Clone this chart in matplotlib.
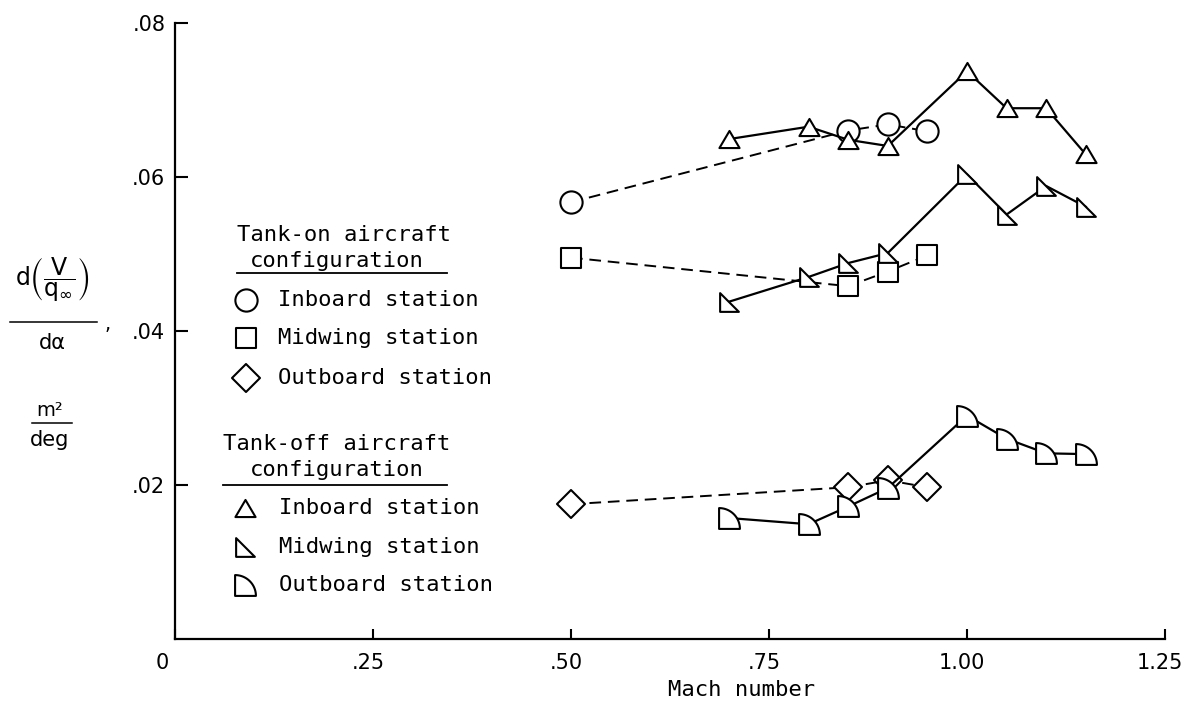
import numpy as np
import matplotlib
matplotlib.use("Agg")
import matplotlib.pyplot as plt
from matplotlib.lines import Line2D
from matplotlib.markers import MarkerStyle
from matplotlib.path import Path
from matplotlib.transforms import ScaledTranslation

W, H = 1186, 713

# Tank-on aircraft (dashed)
mach_tank_on = [0.50, 0.85, 0.90, 0.95]
inboard_on = [0.0567, 0.0660, 0.0668, 0.0659]
midwing_on = [0.0495, 0.0458, 0.0477, 0.0498]
outboard_on = [0.0175, 0.0197, 0.0206, 0.0197]

# Tank-off aircraft (solid)
mach_tank_off = [0.70, 0.80, 0.85, 0.90, 1.00, 1.05, 1.10, 1.15]
inboard_off = [0.0649, 0.0665, 0.0648, 0.0640, 0.0737, 0.0689, 0.0689, 0.0629]
midwing_off = [0.0438, 0.0470, 0.0488, 0.0501, 0.0603, 0.0551, 0.0588, 0.0561]
outboard_off = [0.0157, 0.0149, 0.0172, 0.0196, 0.0290, 0.0260, 0.0241, 0.0240]

xticks = [0, 0.25, 0.50, 0.75, 1.00, 1.25]
xtick_labels = ["0", ".25", ".50", ".75", "1.00", "1.25"]
yticks = [0.02, 0.04, 0.06, 0.08]
ytick_labels = [".02", ".04", ".06", ".08"]

station_names = ["Inboard station", "Midwing station", "Outboard station"]

# marker shapes
TRI = Path([(0, 0.85), (-1, -0.85), (1, -0.85), (0, 0.85)], closed=True)
RIGHT_TRI = Path([(-1, -1), (-1, 1), (1, -1), (-1, -1)], closed=True)
_t = np.linspace(np.pi / 2, 0, 40)
QUARTER = Path([(-1, -1)] + list(zip(-1 + 2 * np.cos(_t), -1 + 2 * np.sin(_t))) + [(-1, -1)],
               closed=True)

DASHED = (0, (6, 3.5))
MONO = "DejaVu Sans Mono"


def rounded(m):
    return MarkerStyle(m, joinstyle="round")


on_styles = [(rounded("o"), 16.0), (rounded("s"), 15.0), (rounded("D"), 14.0)]
off_styles = [(rounded(TRI), 14.5), (rounded(RIGHT_TRI), 13.5), (rounded(QUARTER), 15.0)]


def px(x, y):
    """pixel position (from top-left) -> figure fraction"""
    return x / W, 1 - y / H


fig = plt.figure(figsize=(W / 100, H / 100), dpi=100)
ax = fig.add_axes([175 / W, (H - 639) / H, 990 / W, (639 - 22.7) / H])

for ys, (mk, ms) in zip([inboard_on, midwing_on, outboard_on], on_styles):
    ax.plot(mach_tank_on, ys, color="black", lw=1.4, ls=DASHED, marker=mk, ms=ms,
            mfc="white", mec="black", mew=1.5, zorder=2)
for ys, (mk, ms) in zip([inboard_off, midwing_off, outboard_off], off_styles):
    ax.plot(mach_tank_off, ys, color="black", lw=1.6, ls="-", marker=mk, ms=ms,
            mfc="white", mec="black", mew=1.5, zorder=3)

ax.set_xlim(0, 1.25)
ax.set_ylim(0, 0.08)
ax.spines[["top", "right"]].set_visible(False)
for s in ("left", "bottom"):
    ax.spines[s].set_linewidth(1.6)
ax.set_xticks(xticks, xtick_labels, fontsize=15)
ax.set_yticks(yticks, ytick_labels, fontsize=15)
ax.tick_params(axis="x", direction="in", length=7, width=1.5, pad=10)
ax.tick_params(axis="y", direction="in", length=9, width=1.5, pad=7)
for i, tick in enumerate(ax.xaxis.get_major_ticks()):
    dx = -13 if i == 0 else -5
    tick.label1.set_transform(tick.label1.get_transform()
                              + ScaledTranslation(dx / 100, 0, fig.dpi_scale_trans))

fig.text(*px(742, 690), "Mach number", family=MONO, fontsize=16, ha="center", va="center")

# y label: d(V/q_inf)/d alpha, m^2/deg
fig.text(*px(52, 280), r"$\mathrm{d}\left(\dfrac{\mathrm{V}}{\mathrm{q}_{\infty}}\right)$",
         fontsize=17, ha="center", va="center")
fig.add_artist(Line2D([10 / W, 97 / W], [1 - 321.7 / H] * 2, transform=fig.transFigure,
                      color="black", lw=1.1))
fig.text(*px(108, 325), ",", fontsize=14, ha="center", va="center")
fig.text(*px(52, 343), "d\u03b1", fontsize=15, ha="center", va="center")
fig.text(*px(50, 410), "m\u00b2", fontsize=14, ha="center", va="center")
fig.add_artist(Line2D([31.7 / W, 71.7 / W], [1 - 423.3 / H] * 2, transform=fig.transFigure,
                      color="black", lw=1.1))
fig.text(*px(50, 440), "deg", fontsize=15, ha="center", va="center")


def legend_header(title_x, title_y, under_x1, under_y, state):
    fig.text(*px(title_x, title_y), f"Tank-{state} aircraft", family=MONO, fontsize=16,
             ha="left", va="center")
    fig.text(*px(250, title_y + 26), "configuration", family=MONO, fontsize=16,
             ha="left", va="center")
    fig.add_artist(Line2D([title_x / W, under_x1 / W], [1 - under_y / H] * 2,
                          transform=fig.transFigure, color="black", lw=1.3))


def legend_rows(styles, rows_y, marker_x, text_x):
    for name, (mk, ms), yy in zip(station_names, styles, rows_y):
        fig.add_artist(Line2D([marker_x / W], [1 - yy / H], transform=fig.transFigure,
                              ls="none", marker=mk, ms=ms, mfc="white", mec="black", mew=1.5))
        fig.text(*px(text_x, yy), name, family=MONO, fontsize=16, ha="left", va="center")


legend_header(236.7, 235, 446.7, 273.3, "on")
legend_rows(on_styles, [300, 338.3, 377.7], 246, 278)
legend_header(223.3, 444, 446.7, 485, "off")
legend_rows(off_styles, [508.3, 546.7, 585], 245, 279)

fig.savefig("out.png", dpi=100)
